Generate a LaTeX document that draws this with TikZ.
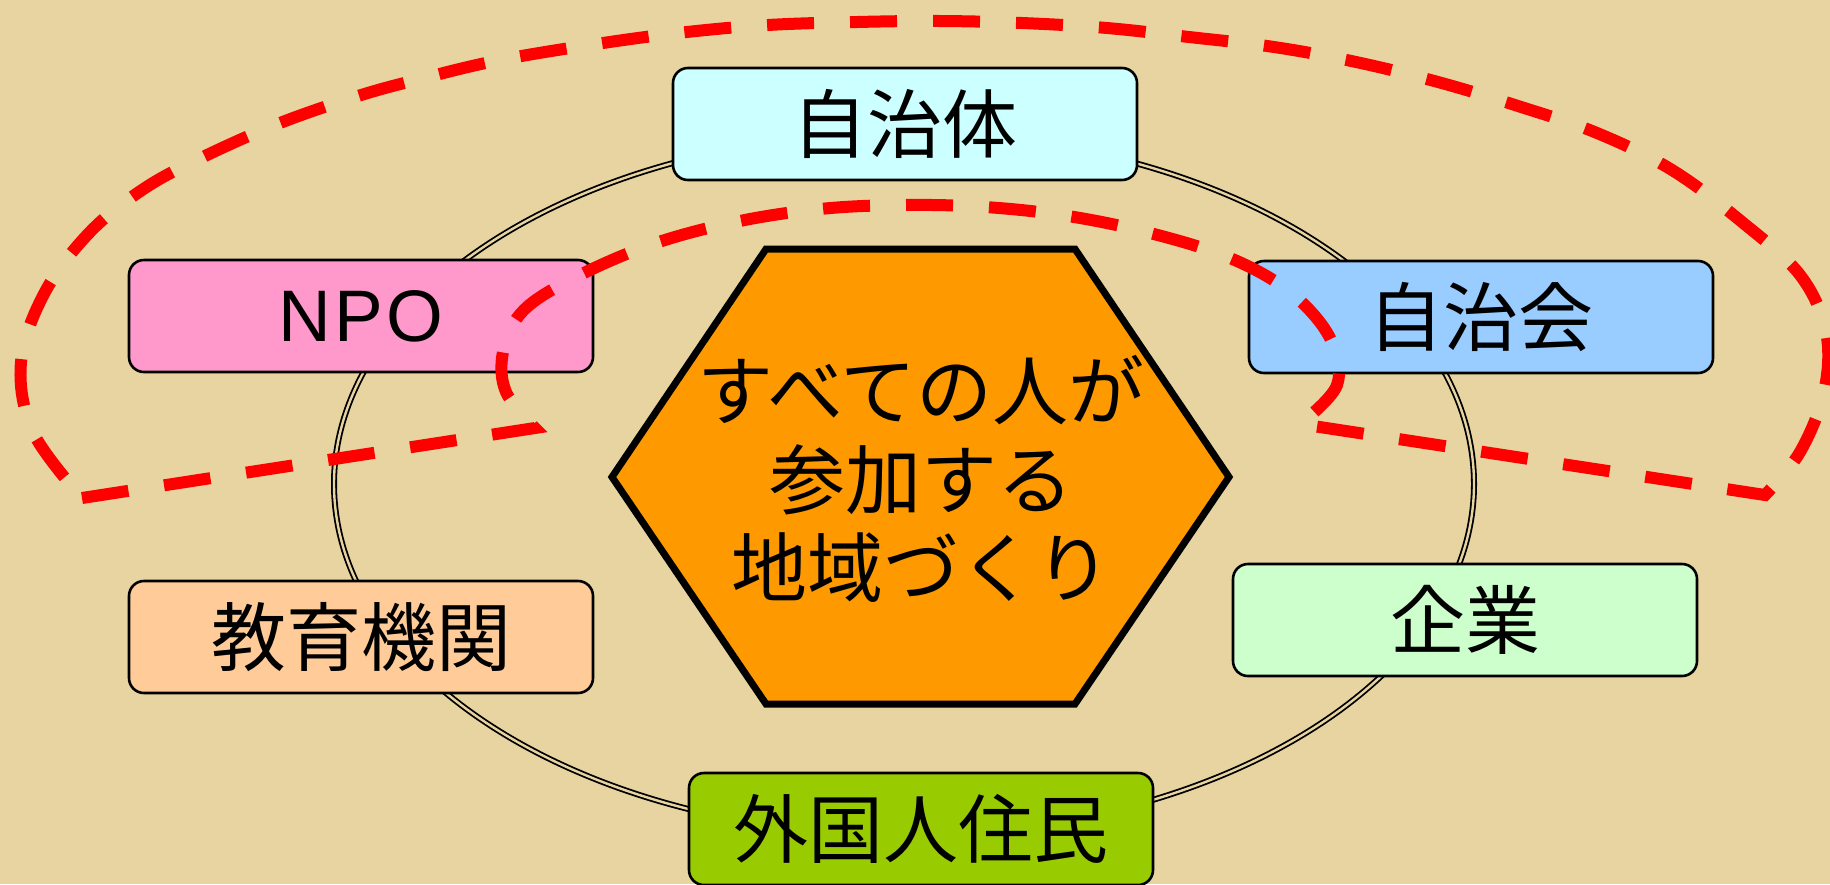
\documentclass[tikz,border=0pt]{standalone}
\usepackage{fontspec}
\setmainfont{Noto Sans CJK JP}
\newfontfamily\latinfont[LetterSpace=4]{Liberation Sans}
\definecolor{paper}{RGB}{231,212,160}
\definecolor{cZitaitai}{RGB}{204,255,255}
\definecolor{cNPO}{RGB}{255,153,204}
\definecolor{cZitikai}{RGB}{153,204,255}
\definecolor{cKyoiku}{RGB}{255,204,153}
\definecolor{cKigyo}{RGB}{204,255,204}
\definecolor{cGaikoku}{RGB}{153,204,0}
\definecolor{cHex}{RGB}{255,153,0}
\definecolor{cRed}{RGB}{255,0,0}
\tikzset{
  membox/.style={draw=black, line width=2.6pt, rounded corners=15pt,
    minimum width=464pt, minimum height=112pt, inner sep=0pt,
    font=\fontsize{75}{80}\selectfont},
  ring/.style={draw=black, line width=1.8pt, double=paper, double distance=2.4pt},
  hexline/.style={draw=black, line width=7pt, line join=miter, fill=cHex},
  reddash/.style={draw=cRed, line width=12pt, dash pattern=on 47pt off 36pt}
}
\begin{document}
\begin{tikzpicture}[x=1pt,y=-1pt]
\useasboundingbox (0,0) rectangle (1830,884);
\fill[paper] (0,0) rectangle (1830,884);
% ring
\draw[ring] (904,484) ellipse [x radius=570pt, y radius=351pt];
% member boxes
\node[membox, fill=cZitaitai] (jititai) at (905,124) {自治体};
\node[membox, fill=cNPO] (npo) at (361,316) {\latinfont\fontsize{73}{80}\selectfont NPO};
\node[membox, fill=cZitikai] (jitikai) at (1481,317) {自治会};
\node[membox, fill=cKyoiku] (kyoiku) at (361,637) {教育機関};
\node[membox, fill=cKigyo] (kigyo) at (1465,620) {企業};
\node[membox, fill=cGaikoku] (gaikoku) at (921,829) {外国人住民};
% hexagon
\coordinate (h1) at (766,249);
\coordinate (h2) at (1075,249);
\coordinate (h3) at (1229,477);
\coordinate (h4) at (1075,704);
\coordinate (h5) at (766,704);
\coordinate (h6) at (612,477);
\draw[hexline] (h1) -- (h2) -- (h3) -- (h4) -- (h5) -- (h6) -- cycle;
\node[align=center, font=\fontsize{76}{88.5}\selectfont, inner sep=0pt] (core) at (921,479)
  {すべての人が\\参加する\\地域づくり};
% red dashed region
\draw[reddash] (82,498) -- (535,428)
  -- plot[smooth, tension=0.6] coordinates {(535,428) (506,392) (503,352) (522,312) (570,280) (650,245) (735,222) (820,209) (902,205) (985,207) (1068,216) (1150,233) (1230,258) (1290,292) (1330,338) (1337,385) (1300,424)}
  -- (1765,495)
  -- plot[smooth, tension=0.6] coordinates {(1765,495) (1800,452) (1824,392) (1826,332) (1800,275) (1742,222) (1672,170) (1597,133) (1518,106) (1438,82) (1356,62) (1274,47) (1189,37) (1107,28) (1022,23) (940,21) (857,22) (768,25) (687,32) (603,43) (500,60) (420,79) (358,96) (280,123) (205,156) (145,188) (90,232) (45,292) (21,362) (33,432) (82,498)}
  -- cycle;
\end{tikzpicture}
\end{document}
